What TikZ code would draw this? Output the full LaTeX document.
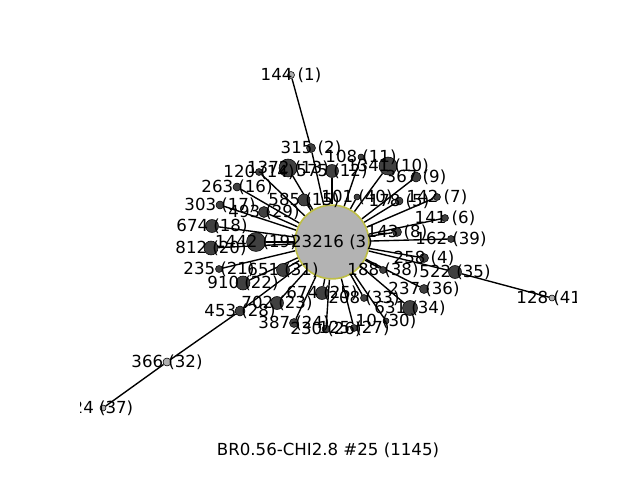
\documentclass[tikz,border=0pt]{standalone}
\usepackage{fontspec}
\setmainfont{DejaVu Sans}

\pgfdeclarelayer{edges}
\pgfsetlayers{edges,main}

\definecolor{hubfill}{RGB}{179,179,179}
\definecolor{hubrim}{RGB}{190,190,70}
\definecolor{dotfill}{RGB}{64,64,64}
\definecolor{leaffill}{RGB}{175,175,175}

\tikzset{
  hub/.style = {circle, draw = hubrim, line width = 1.2pt, fill = hubfill, inner sep = 0pt, minimum size = #1*0.72pt},
  dot/.style = {circle, draw = black, fill = dotfill, inner sep = 0pt, minimum size = #1*0.72pt},
  leaf/.style = {circle, draw = black, fill = leaffill, inner sep = 0pt, minimum size = #1*0.72pt},
  lbl/.style = {inner sep = 0pt, font = \fontsize{12}{14}\selectfont},
  link/.style = {draw = black, line width = 1pt}
}

\begin{document}
\begin{tikzpicture}[x = 0.01in, y = -0.01in]
\useasboundingbox (0,0) rectangle (640,480);
\begin{scope}
\clip (80,57.6) rectangle (576,427.2);
\node[hub = 74] (n3) at (332,242) {};
\node[leaf = 7] (n1) at (291,75) {};
\node[dot = 9] (n2) at (311,148) {};
\node[dot = 9] (n4) at (424,258) {};
\node[dot = 8] (n5) at (399,201) {};
\node[dot = 7] (n6) at (445,218) {};
\node[dot = 7] (n7) at (437,197) {};
\node[dot = 9] (n8) at (397,232) {};
\node[dot = 10] (n9) at (416,177) {};
\node[dot = 18] (n10) at (388,166) {};
\node[dot = 6] (n11) at (361,157) {};
\node[dot = 13] (n12) at (332,171) {};
\node[dot = 18] (n13) at (288,168) {};
\node[dot = 7] (n14) at (259,172) {};
\node[dot = 12] (n15) at (304,200) {};
\node[dot = 8] (n16) at (237,187) {};
\node[dot = 8] (n17) at (220,205) {};
\node[dot = 13] (n18) at (212,226) {};
\node[dot = 19] (n19) at (256,242) {};
\node[dot = 14] (n20) at (211,248) {};
\node[dot = 7] (n21) at (219,269) {};
\node[dot = 14] (n22) at (243,283) {};
\node[dot = 13] (n23) at (277,303) {};
\node[dot = 9] (n24) at (294,323) {};
\node[dot = 13] (n25) at (322,293) {};
\node[dot = 8] (n26) at (326,329) {};
\node[dot = 7] (n27) at (354,328) {};
\node[dot = 10] (n28) at (240,311) {};
\node[dot = 11] (n29) at (264,212) {};
\node[dot = 6] (n30) at (386,321) {};
\node[dot = 13] (n31) at (283,270) {};
\node[leaf = 8] (n32) at (167,362) {};
\node[dot = 7] (n33) at (364,298) {};
\node[dot = 15] (n34) at (410,308) {};
\node[dot = 13] (n35) at (455,272) {};
\node[dot = 9] (n36) at (424,289) {};
\node[leaf = 6] (n37) at (103,408) {};
\node[dot = 7] (n38) at (383,270) {};
\node[dot = 7] (n39) at (451,239) {};
\node[dot = 6] (n40) at (357,197) {};
\node[leaf = 6] (n41) at (552,298) {};
% connectors under the dots
\begin{pgfonlayer}{edges}
\draw[link] (n1) -- (n2);
\draw[link] (n2) -- (n3);
\draw[link] (n4) -- (n3);
\draw[link] (n5) -- (n3);
\draw[link] (n6) -- (n3);
\draw[link] (n7) -- (n3);
\draw[link] (n8) -- (n3);
\draw[link] (n9) -- (n3);
\draw[link] (n10) -- (n3);
\draw[link] (n11) -- (n3);
\draw[link] (n12) -- (n3);
\draw[link] (n13) -- (n3);
\draw[link] (n14) -- (n3);
\draw[link] (n15) -- (n3);
\draw[link] (n16) -- (n3);
\draw[link] (n17) -- (n3);
\draw[link] (n18) -- (n3);
\draw[link] (n19) -- (n3);
\draw[link] (n20) -- (n3);
\draw[link] (n21) -- (n3);
\draw[link] (n22) -- (n3);
\draw[link] (n23) -- (n3);
\draw[link] (n24) -- (n3);
\draw[link] (n25) -- (n3);
\draw[link] (n26) -- (n3);
\draw[link] (n27) -- (n3);
\draw[link] (n28) -- (n3);
\draw[link] (n29) -- (n3);
\draw[link] (n30) -- (n3);
\draw[link] (n31) -- (n3);
\draw[link] (n37) -- (n32);
\draw[link] (n32) -- (n28);
\draw[link] (n33) -- (n3);
\draw[link] (n34) -- (n3);
\draw[link] (n35) -- (n3);
\draw[link] (n41) -- (n35);
\draw[link] (n36) -- (n3);
\draw[link] (n38) -- (n3);
\draw[link] (n39) -- (n3);
\draw[link] (n40) -- (n3);
\end{pgfonlayer}
% labels on top
\node[lbl] (l1) at (n1) {144 (1)};
\node[lbl] (l2) at (n2) {315 (2)};
\node[lbl] (l3) at (n3) {23216 (3)};
\node[lbl] (l4) at (n4) {258 (4)};
\node[lbl] (l5) at (n5) {178 (5)};
\node[lbl] (l6) at (n6) {141 (6)};
\node[lbl] (l7) at (n7) {142 (7)};
\node[lbl] (l8) at (n8) {143 (8)};
\node[lbl] (l9) at (n9) {367 (9)};
\node[lbl] (l10) at (n10) {1341 (10)};
\node[lbl] (l11) at (n11) {108 (11)};
\node[lbl] (l12) at (n12) {575 (12)};
\node[lbl] (l13) at (n13) {1372 (13)};
\node[lbl] (l14) at (n14) {120 (14)};
\node[lbl] (l15) at (n15) {585 (15)};
\node[lbl] (l16) at (n16) {263 (16)};
\node[lbl] (l17) at (n17) {303 (17)};
\node[lbl] (l18) at (n18) {674 (18)};
\node[lbl] (l19) at (n19) {1442 (19)};
\node[lbl] (l20) at (n20) {812 (20)};
\node[lbl] (l21) at (n21) {235 (21)};
\node[lbl] (l22) at (n22) {910 (22)};
\node[lbl] (l23) at (n23) {702 (23)};
\node[lbl] (l24) at (n24) {387 (24)};
\node[lbl] (l25) at (n25) {674 (25)};
\node[lbl] (l26) at (n26) {230 (26)};
\node[lbl] (l27) at (n27) {125 (27)};
\node[lbl] (l28) at (n28) {453 (28)};
\node[lbl] (l29) at (n29) {493 (29)};
\node[lbl] (l30) at (n30) {10 (30)};
\node[lbl] (l31) at (n31) {651 (31)};
\node[lbl] (l32) at (n32) {366 (32)};
\node[lbl] (l33) at (n33) {208 (33)};
\node[lbl] (l34) at (n34) {631 (34)};
\node[lbl] (l35) at (n35) {522 (35)};
\node[lbl] (l36) at (n36) {237 (36)};
\node[lbl] (l37) at (n37) {24 (37)};
\node[lbl] (l38) at (n38) {188 (38)};
\node[lbl] (l39) at (n39) {162 (39)};
\node[lbl] (l40) at (n40) {101 (40)};
\node[lbl] (l41) at (n41) {128 (41)};
\end{scope}
\node[lbl] (title) at (328,450) {BR0.56-CHI2.8 \#25 (1145)};
\end{tikzpicture}
\end{document}
